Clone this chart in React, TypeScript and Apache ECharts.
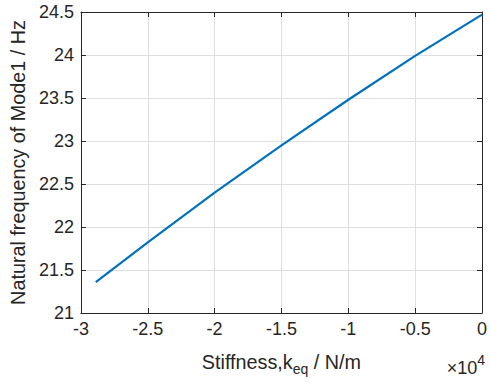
import React, { useEffect, useRef } from "react";
import * as echarts from "echarts";

const stiffness = [-28890, -25000, -20000, -15000, -10000, -5000, 0];
const frequency = [21.36, 21.82, 22.4, 22.95, 23.48, 23.99, 24.47];

const xTitle = "Stiffness,k";
const xTitleSub = "eq";
const xTitleTail = " / N/m";
const yTitle = "Natural frequency of Mode1 / Hz";
const xScale = 1e4;

export default function App() {
  const ref = useRef<HTMLDivElement>(null);
  useEffect(() => {
    if (!ref.current) return;
    const chart = echarts.init(ref.current, null, { renderer: "svg" });
    const dark = "#262626";
    const font = "Liberation Sans, Arial, Helvetica, sans-serif";
    const tickStyle = { show: true, inside: true, length: 5, lineStyle: { color: dark, width: 1 } };
    const lineStyle = { show: true, lineStyle: { color: dark, width: 1 } };
    chart.setOption({
      animation: false,
      grid: { left: 79, right: 5, top: 12, bottom: 70 },
      xAxis: [
        {
          type: "value",
          min: -30000,
          max: 0,
          interval: 5000,
          axisLine: { ...lineStyle, onZero: false },
          axisTick: tickStyle,
          splitLine: { show: true, lineStyle: { color: "#dfdfdf", width: 1 } },
          axisLabel: {
            color: dark,
            fontSize: 18,
            fontFamily: font,
            margin: 7,
            formatter: (v: number) => String(v / xScale),
          },
          name: `{m|${xTitle}}{s|${xTitleSub}}{m|${xTitleTail}}`,
          nameLocation: "middle",
          nameGap: 38,
          nameTextStyle: {
            rich: {
              m: { fontSize: 19.8, fontFamily: font, color: dark, lineHeight: 22 },
              s: { fontSize: 14, fontFamily: font, color: dark, lineHeight: 14, padding: [14, 0, 0, 0] },
            },
          },
        },
        {
          type: "value",
          position: "top",
          min: -30000,
          max: 0,
          interval: 5000,
          axisLine: { ...lineStyle, onZero: false },
          axisTick: tickStyle,
          axisLabel: { show: false },
          splitLine: { show: false },
        },
      ],
      yAxis: [
        {
          type: "value",
          min: 21,
          max: 24.5,
          interval: 0.5,
          axisLine: { ...lineStyle, onZero: false },
          axisTick: tickStyle,
          splitLine: { show: true, lineStyle: { color: "#dfdfdf", width: 1 } },
          axisLabel: { color: dark, fontSize: 18, fontFamily: font, margin: 7 },
          name: yTitle,
          nameLocation: "middle",
          nameGap: 47,
          nameTextStyle: { fontSize: 19.8, fontFamily: font, color: dark },
        },
        {
          type: "value",
          position: "right",
          min: 21,
          max: 24.5,
          interval: 0.5,
          axisLine: { ...lineStyle, onZero: false },
          axisTick: tickStyle,
          axisLabel: { show: false },
          splitLine: { show: false },
        },
      ],
      graphic: [
        {
          type: "text",
          right: 5,
          top: 351,
          style: {
            text: "{a|×10}{b|4}",
            rich: {
              a: { fontSize: 18, fontFamily: font, fill: dark, lineHeight: 20, padding: [8, 0, 0, 0] },
              b: { fontSize: 14, fontFamily: font, fill: dark, lineHeight: 14, padding: [0, 0, 8, 0] },
            },
          },
        },
      ],
      series: [
        {
          type: "line",
          data: stiffness.map((x, i) => [x, frequency[i]]),
          showSymbol: false,
          lineStyle: { color: "#0072BD", width: 2.2 },
          itemStyle: { color: "#0072BD" },
        },
      ],
    });
    return () => chart.dispose();
  }, []);
  return <div ref={ref} style={{ width: 490, height: 383, position: "absolute", left: 0, top: 0 }} />;
}
